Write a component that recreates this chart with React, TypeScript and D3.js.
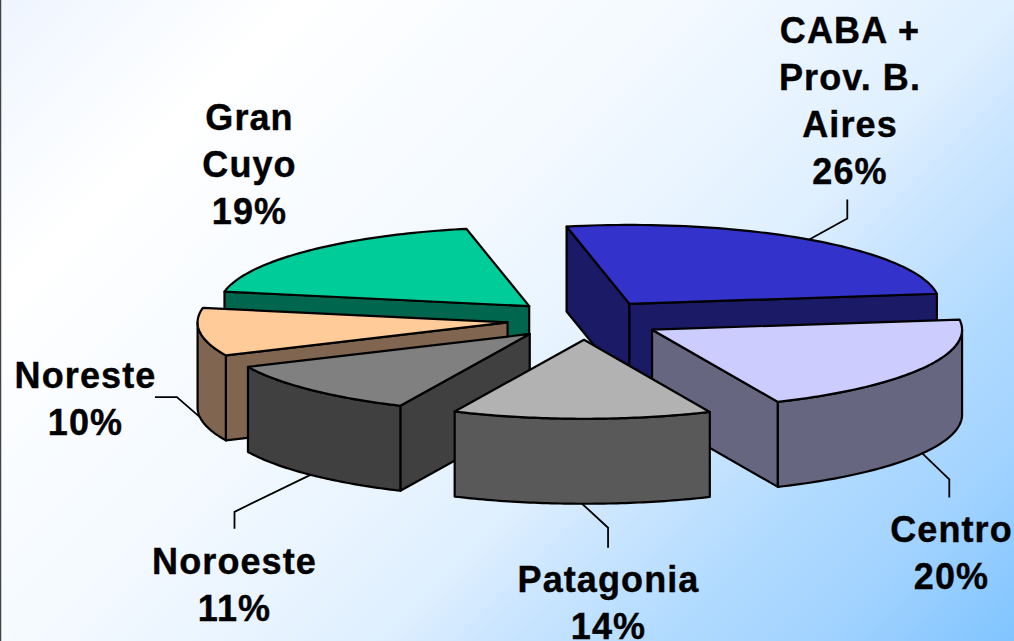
import { useEffect, useRef } from "react"
import * as d3 from "d3"

const regions = ["CABA + Prov. B. Aires", "Centro", "Patagonia", "Noroeste", "Noreste", "Gran Cuyo"]
// the labels show these rounded
const shares = [26.2, 20.4, 13.5, 11.3, 9.8, 18.8]
const labelLines = [
  ["CABA +", "Prov. B.", "Aires"],
  ["Centro"],
  ["Patagonia"],
  ["Noroeste"],
  ["Noreste"],
  ["Gran", "Cuyo"],
]
const topColors = ["#3333cc", "#ccccff", "#b2b2b2", "#808080", "#ffcc99", "#00cc99"]
const wallColors = ["#1a1a66", "#666680", "#595959", "#404040", "#806650", "#00664d"]

// back to front, indexes into the arrays above
const paintOrder = [5, 0, 4, 1, 3, 2]

const width = 1014
const height = 641
const centerX = 584.5
const centerY = 320
const radiusX = 310
const radiusY = 79
const depth = 85
const explode = 0.25
const startDeg = -11.7
const lineHeight = 47

// label block: center x, baseline of first line
const labelSpots = [
  [850, 43],
  [951.5, 542],
  [608.5, 591.5],
  [234.5, 574],
  [85.5, 388],
  [249.5, 130],
]
// leader: offsets from the rim point to the elbow, then elbow to the end
const leaderBends = [
  [[38, -21], [0, -19]],
  [[27, 26], [0, 18]],
  [[26, 24], [0, 20]],
  [[-76, 37], [0, 17]],
  [[-23, -20], [-22, 0]],
  null,
]

export default function App() {
  const ref = useRef<SVGSVGElement | null>(null)

  useEffect(() => {
    const svg = d3.select(ref.current)
    svg.selectAll("*").remove()

    const defs = svg.append("defs")
    const grad = defs.append("linearGradient")
      .attr("id", "bg")
      .attr("gradientUnits", "userSpaceOnUse")
      .attr("x1", 0).attr("y1", 0)
      .attr("x2", (width + height) / 2).attr("y2", (width + height) / 2)
    const stops: [number, string][] = [
      [0, "#eef5ff"],
      [0.18, "#ffffff"],
      [0.42, "#f3f9ff"],
      [0.61, "#e0f0ff"],
      [0.68, "#cce6ff"],
      [0.79, "#b0daff"],
      [0.88, "#a2d3ff"],
      [1, "#80c4ff"],
    ]
    stops.forEach(([o, c]) => grad.append("stop").attr("offset", o).attr("stop-color", c))

    svg.append("rect").attr("width", width).attr("height", height).attr("fill", "url(#bg)")
    svg.append("line")
      .attr("x1", 0.5).attr("x2", 0.5).attr("y1", 0).attr("y2", height)
      .attr("stroke", "#444").attr("stroke-width", 1.5)

    const x = d3.scaleLinear().domain([-1, 1]).range([centerX - radiusX, centerX + radiusX])
    const y = d3.scaleLinear().domain([-1, 1]).range([centerY - radiusY, centerY + radiusY])

    const pie = d3.pie<number>()
      .sort(null)
      .startAngle((startDeg * Math.PI) / 180)
      .endAngle((startDeg * Math.PI) / 180 + 2 * Math.PI)
    const arcs = pie(shares)

    const polar = (a: number, r: number) => [Math.sin(a) * r, -Math.cos(a) * r]
    const line = d3.line()

    const leaders = svg.append("g")
    const slices = svg.append("g")
    const texts = svg.append("g")

    paintOrder.forEach(i => {
      const arc = arcs[i]
      const mid = (arc.startAngle + arc.endAngle) / 2
      const [ox, oy] = polar(mid, explode)

      const pt = (a: number, r: number, drop = 0): [number, number] => {
        const [px, py] = polar(a, r)
        return [x(px + ox), y(py + oy) + drop]
      }
      const rim = (from: number, to: number, drop = 0) =>
        d3.range(0, 61).map(k => pt(from + ((to - from) * k) / 60, 1, drop))

      const g = slices.append("g")
        .attr("stroke", "#000")
        .attr("stroke-width", 2.2)
        .attr("stroke-linejoin", "round")

      const wall = (pts: [number, number][]) =>
        g.append("path").attr("d", line(pts) + "Z").attr("fill", wallColors[i])

      if (Math.sin(arc.startAngle) < 0) {
        wall([pt(0, 0), pt(arc.startAngle, 1), pt(arc.startAngle, 1, depth), pt(0, 0, depth)])
      }
      if (Math.sin(arc.endAngle) > 0) {
        wall([pt(0, 0), pt(arc.endAngle, 1), pt(arc.endAngle, 1, depth), pt(0, 0, depth)])
      }

      // outer wall only where the rim faces the viewer
      const from = Math.max(arc.startAngle, Math.PI / 2)
      const to = Math.min(arc.endAngle, (3 * Math.PI) / 2)
      if (from < to) {
        wall([...rim(from, to), ...rim(from, to, depth).reverse()])
      }

      g.append("path")
        .attr("d", line([pt(0, 0), ...rim(arc.startAngle, arc.endAngle)]) + "Z")
        .attr("fill", topColors[i])

      const bend = leaderBends[i]
      if (bend) {
        const start = pt(mid, 1, Math.cos(mid) < 0.5 ? depth : 0)
        const elbow: [number, number] = [start[0] + bend[0][0], start[1] + bend[0][1]]
        const end: [number, number] = [elbow[0] + bend[1][0], elbow[1] + bend[1][1]]
        leaders.append("path")
          .attr("d", line([start, elbow, end]))
          .attr("fill", "none")
          .attr("stroke", "#000")
          .attr("stroke-width", 1.8)
      }

      const [lx, ly] = labelSpots[i]
      const rows = [...labelLines[i], `${Math.round(shares[i])}%`]
      rows.forEach((row, k) => {
        texts.append("text")
          .attr("x", lx)
          .attr("y", ly + k * lineHeight)
          .attr("text-anchor", "middle")
          .attr("font-family", "'Liberation Sans', Arial, sans-serif")
          .attr("font-weight", "bold")
          .attr("font-size", 36)
          .attr("letter-spacing", 1.1)
          .attr("fill", "#000")
          .attr("stroke", "#000")
          .attr("stroke-width", 0.4)
          .text(row)
      })
    })
  }, [])

  return (
    <svg
      ref={ref}
      role="img"
      aria-label={regions.join(", ")}
      width={width}
      height={height}
      style={{ position: "fixed", left: 0, top: 0, display: "block" }}
    />
  )
}
